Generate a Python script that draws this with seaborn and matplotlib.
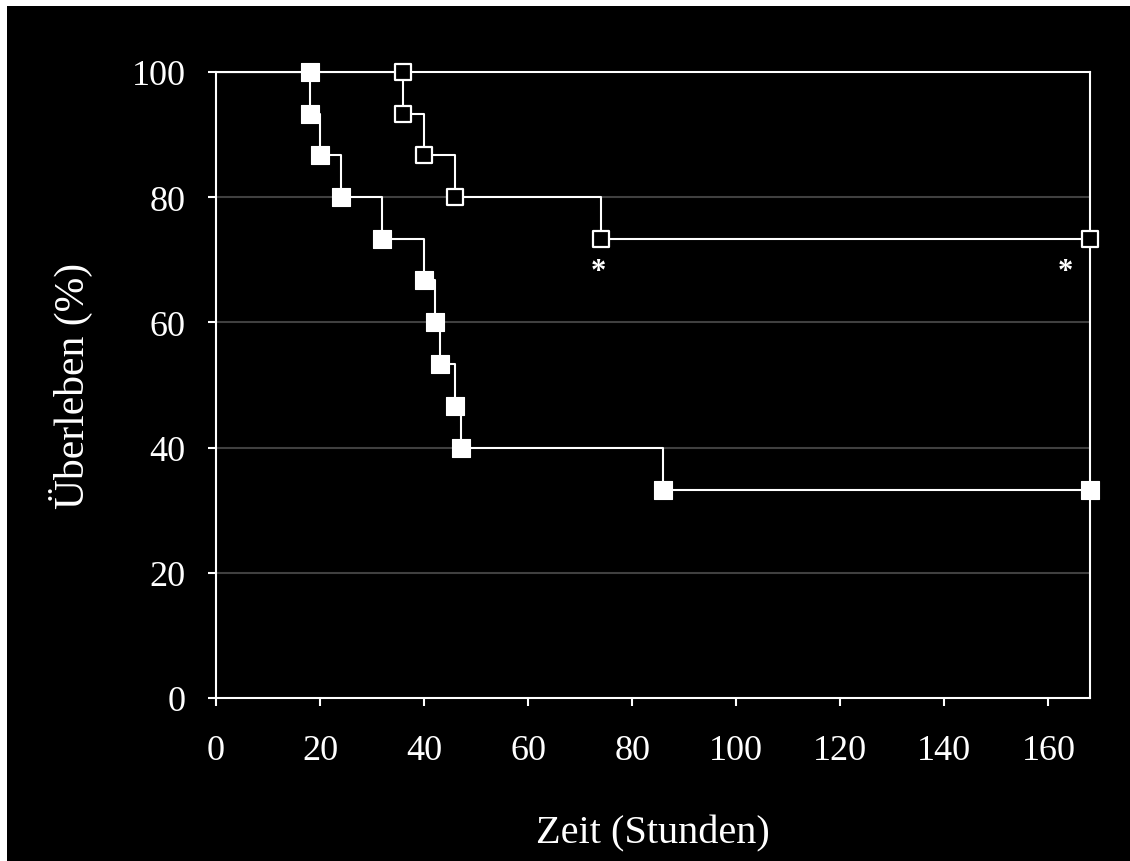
import matplotlib
matplotlib.use("Agg")
import matplotlib.pyplot as plt
import seaborn as sns
import pandas as pd
from matplotlib.patches import Rectangle

# ---- data ----
filled_t = [18, 18, 20, 24, 32, 40, 42, 43, 46, 47, 86, 168]
filled_s = [100, 93.3, 86.7, 80, 73.3, 66.7, 60, 53.3, 46.7, 40, 33.3, 33.3]
open_t = [36, 36, 40, 46, 74, 168]
open_s = [100, 93.3, 86.7, 80, 73.3, 73.3]
star_t = [73.5, 163.3]
star_s = [68.2, 68.2]
x_ticks = [0, 20, 40, 60, 80, 100, 120, 140, 160]
y_ticks = [0, 20, 40, 60, 80, 100]
x_label = "Zeit (Stunden)"
y_label = "Überleben (%)"

sns.set_theme(style="ticks")
plt.rcParams['font.family'] = ['Liberation Serif', 'DejaVu Serif']

W, H = 1130, 862
fig = plt.figure(figsize=(W / 100, H / 100), dpi=100, facecolor="black")
fig.patches.append(Rectangle((0, 0), 7 / W, 1, transform=fig.transFigure,
                             facecolor="white", edgecolor="none", zorder=-5))
fig.patches.append(Rectangle((0, 1 - 7 / H), 1, 7 / H, transform=fig.transFigure,
                             facecolor="white", edgecolor="none", zorder=-5))
ax = fig.add_axes([216 / W, 1 - 699 / H, (1090 - 216) / W, (699 - 73) / H])
ax.set_facecolor("black")

lw = 1.5
for t, s in [(filled_t, filled_s), (open_t, open_s)]:
    df = pd.DataFrame({"t": [0] + t, "s": [100] + s})
    sns.lineplot(data=df, x="t", y="s", ax=ax, estimator=None, sort=False,
                 drawstyle="steps-post", color="white", linewidth=lw, zorder=3)

sns.scatterplot(x=filled_t, y=filled_s, ax=ax, marker="s", s=175, color="white",
                edgecolor="white", linewidth=0.8, zorder=5, clip_on=False)
sns.scatterplot(x=open_t, y=open_s, ax=ax, marker="s", s=140, color="black",
                edgecolor="white", linewidth=1.6, zorder=5, clip_on=False)

for t, s in zip(star_t, star_s):
    ax.text(t, s, "*", color="white", fontsize=22, ha="center", va="center",
            fontweight="bold", zorder=6)

ax.set_xlim(0, 168)
ax.set_ylim(0, 100)
ax.set_xticks(x_ticks)
ax.set_yticks(y_ticks)
ax.grid(False)
for y in y_ticks[1:-1]:
    ax.axhline(y, color="#404040", linewidth=1.5, zorder=1)

for sp in ax.spines.values():
    sp.set_color("white")
    sp.set_linewidth(1.5)
    sp.set_visible(True)

ax.tick_params(axis="both", colors="white", direction="out", length=6, width=1.5,
               labelsize=26, labelcolor="white")
ax.tick_params(axis="y", pad=16)
ax.tick_params(axis="x", pad=20)

ax.set_xlabel(x_label, color="white", fontsize=29, labelpad=34)
ax.set_ylabel(y_label, color="white", fontsize=30, labelpad=28)

fig.savefig("out.png", dpi=100, facecolor=fig.get_facecolor())
